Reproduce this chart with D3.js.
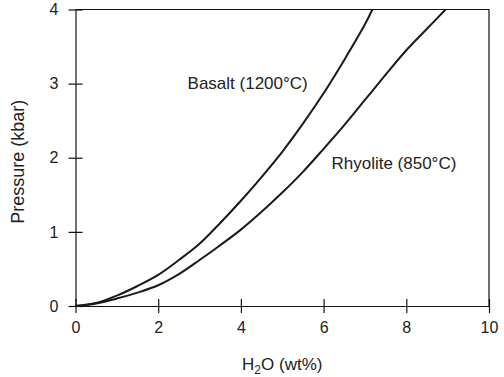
<!DOCTYPE html>
<html>
<head>
<meta charset="utf-8">
<script src="https://cdn.jsdelivr.net/npm/d3@7"></script>
<style>
  body { margin: 0; background: #fff; }
  svg { display: block; font-family: "Liberation Sans", Arial, sans-serif; }
  .axis path, .axis line { stroke: #111; stroke-width: 1.2; }
  .axis text { font-size: 16px; fill: #222; }
</style>
</head>
<body>
<div id="chart"></div>
<script>
// water solubility curves
const basaltH2O = [0, 0.5, 1, 1.5, 2, 2.5, 3, 3.5, 4, 4.5, 5, 5.5, 6, 6.5, 7, 7.18]
const basaltP = [0, 0.04, 0.14, 0.27, 0.42, 0.62, 0.84, 1.12, 1.42, 1.74, 2.08, 2.46, 2.87, 3.32, 3.8, 4.0]
const rhyoliteH2O = [0, 0.5, 1, 1.5, 2, 2.5, 3, 3.5, 4, 4.5, 5, 5.5, 6, 6.5, 7, 7.5, 8, 8.5, 8.95]
const rhyoliteP = [0, 0.035, 0.1, 0.18, 0.28, 0.43, 0.62, 0.82, 1.03, 1.27, 1.53, 1.81, 2.12, 2.44, 2.78, 3.12, 3.45, 3.74, 4.0]
const xTicks = [0, 2, 4, 6, 8, 10]
const yTicks = [0, 1, 2, 3, 4]
const seriesNames = ['Basalt (1200°C)', 'Rhyolite (850°C)']

const width = 504, height = 377
const margin = {top: 9.5, right: 15, bottom: 71, left: 75.5}
const w = width - margin.left - margin.right
const h = height - margin.top - margin.bottom

const svg = d3.select('#chart').append('svg')
    .attr('width', width)
    .attr('height', height)
const g = svg.append('g').attr('transform', `translate(${margin.left},${margin.top})`)

const x = d3.scaleLinear().domain([0, 10]).range([0, w])
const y = d3.scaleLinear().domain([0, 4]).range([h, 0])

// frame (top + right)
g.append('path')
    .attr('d', `M0,0H${w}V${h}`)
    .attr('fill', 'none')
    .attr('stroke', '#111')
    .attr('stroke-width', 1.2)

const xAxis = g.append('g')
    .attr('class', 'axis')
    .attr('transform', `translate(0,${h})`)
    .call(d3.axisBottom(x).tickValues(xTicks).tickFormat(d3.format('d'))
        .tickSize(7).tickPadding(9).tickSizeOuter(0))
xAxis.selectAll('.tick line').attr('y1', -7)

const yAxis = g.append('g')
    .attr('class', 'axis')
    .call(d3.axisLeft(y).tickValues(yTicks).tickFormat(d3.format('d'))
        .tickSize(7).tickPadding(10).tickSizeOuter(0))
yAxis.selectAll('.tick line').attr('x1', 7)

const line = d3.line()
    .x(d => x(d[0]))
    .y(d => y(d[1]))
    .curve(d3.curveCatmullRom.alpha(0.5))

const series = [
    d3.zip(basaltH2O, basaltP),
    d3.zip(rhyoliteH2O, rhyoliteP)
]
g.selectAll('.curve')
    .data(series)
    .join('path')
    .attr('class', 'curve')
    .attr('d', line)
    .attr('fill', 'none')
    .attr('stroke', '#1a1a1a')
    .attr('stroke-width', 2)

// curve labels (data coordinates)
const labelPos = [[2.71, 2.93], [6.19, 1.85]]
g.selectAll('.label')
    .data(seriesNames)
    .join('text')
    .attr('class', 'label')
    .attr('x', (d, i) => x(labelPos[i][0]))
    .attr('y', (d, i) => y(labelPos[i][1]))
    .attr('font-size', 17)
    .attr('fill', '#222')
    .text(d => d)

// axis titles
const xt = svg.append('text')
    .attr('x', margin.left + w / 2)
    .attr('y', 370)
    .attr('text-anchor', 'middle')
    .attr('font-size', 17)
    .attr('fill', '#222')
xt.append('tspan').text('H')
xt.append('tspan').attr('font-size', 12).attr('dy', 4).text('2')
xt.append('tspan').attr('dy', -4).text('O (wt%)')

svg.append('text')
    .attr('transform', `translate(24,${margin.top + h / 2 + 4}) rotate(-90)`)
    .attr('text-anchor', 'middle')
    .attr('font-size', 18)
    .attr('fill', '#222')
    .text('Pressure (kbar)')
</script>
</body>
</html>
